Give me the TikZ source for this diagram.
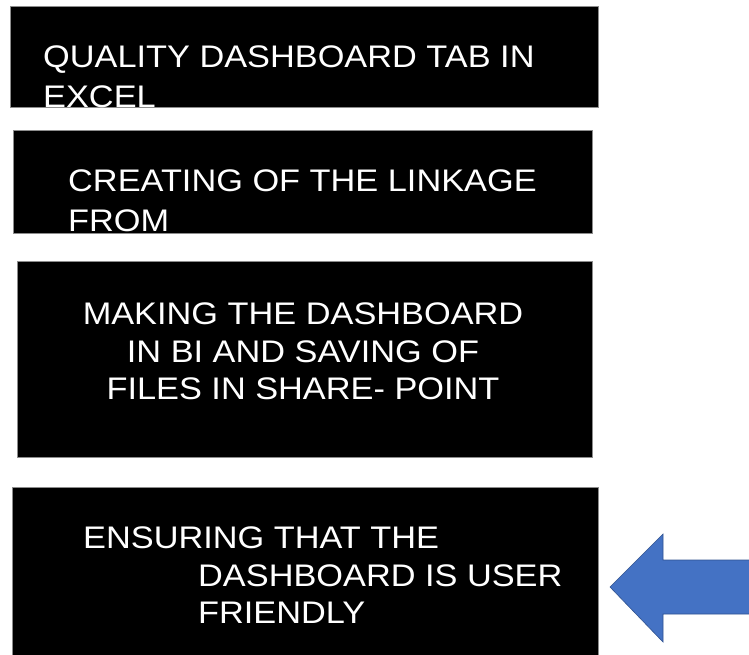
\documentclass[tikz,border=0pt]{standalone}
\usepackage{fontspec}
\usepackage{xcolor}
\usetikzlibrary{positioning}
\newfontfamily\slidefont[FakeStretch=1.1]{Liberation Sans}
\definecolor{arrowblue}{HTML}{4472C4}
\definecolor{arrowedge}{HTML}{2F528F}
\tikzset{
	stepbox/.style={fill=black, draw=black!45, line width=0.6pt, anchor=north west, inner sep=0pt},
	steptext/.style={text=white, font=\slidefont\fontsize{31.2}{#1}\selectfont, inner sep=0pt, anchor=north west, align=left},
	steptext/.default=37.5
}
\begin{document}
\begin{tikzpicture}[x=1pt,y=-1pt]
	\useasboundingbox (0,0) rectangle (749,655);
	%draw boxes
	\node[stepbox, minimum width=588pt, minimum height=101pt] (box1) at (10,6) {};
	\node[stepbox, minimum width=579pt, minimum height=103pt] (box2) at (13,130) {};
	\node[stepbox, minimum width=575pt, minimum height=196pt] (box3) at (17,261) {};
	\node[stepbox, minimum width=586pt, minimum height=180pt] (box4) at (12,487) {};
	%texts in the boxes
	\node[steptext=39.5] (text1) at (43,46) {QUALITY DASHBOARD TAB IN\\EXCEL};
	\node[steptext=40] (text2) at (68,170) {CREATING OF THE LINKAGE\\FROM};
	\node[steptext, anchor=north, align=center] (text3) at (303,303) {MAKING THE DASHBOARD\\IN BI AND SAVING OF\\FILES IN SHARE- POINT};
	\node[steptext] (text4) at (83,527) {ENSURING THAT THE\\\hspace*{115pt}DASHBOARD IS USER\\\hspace*{115pt}FRIENDLY};
	%add arrow
	\coordinate (tip) at (610,587);
	\filldraw[fill=arrowblue, draw=arrowedge, line width=0.6pt] (tip) -- (663,534) -- (663,560) -- (760,560) -- (760,614) -- (663,614) -- (663,642) -- cycle;
\end{tikzpicture}
\end{document}
